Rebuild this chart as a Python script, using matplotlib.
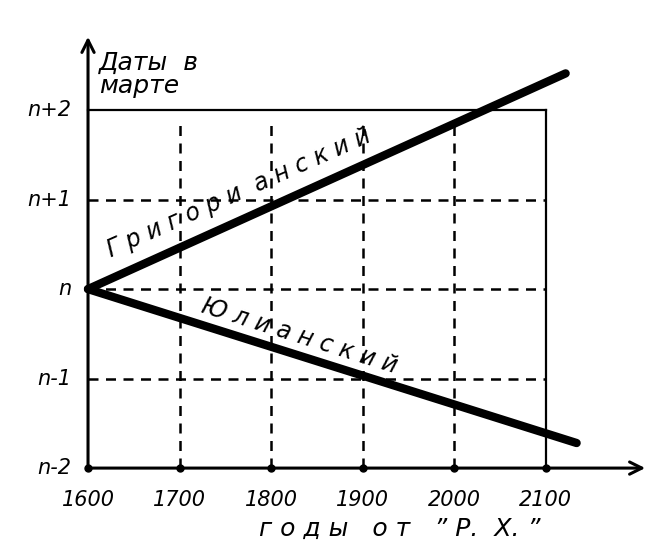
import numpy as np
import matplotlib.pyplot as plt

# годы по оси x и уровни дат по оси y
years = [1600, 1700, 1800, 1900, 2000, 2100]
levels = [-2, -1, 0, 1, 2]
level_labels = ['n-2', 'n-1', 'n', 'n+1', 'n+2']

# прямые календарей: (год, сдвиг даты)
greg_years = [1600, 2122]
greg_shift = [0, 2.41]
jul_years = [1600, 2134]
jul_shift = [0, -1.72]

fig = plt.figure(figsize=(6.5, 5.54), dpi=100)
ax = fig.add_axes([0, 0, 1, 1])
ax.set_xlim(1503.8, 2214.2)
ax.set_ylim(-2.96, 3.23)
ax.axis('off')

x0, x1 = years[0], years[-1]
y0, y1 = levels[0], levels[-1]

# рамка
ax.plot([x0, x1], [y1, y1], color='black', lw=1.6)
ax.plot([x1, x1], [y0, y1], color='black', lw=1.6)

# оси со стрелками
ax.annotate('', xy=(2212, y0), xytext=(x0, y0),
            arrowprops=dict(arrowstyle='->', lw=2.2, color='black', mutation_scale=22))
ax.annotate('', xy=(x0, 2.85), xytext=(x0, y0),
            arrowprops=dict(arrowstyle='->', lw=2.2, color='black', mutation_scale=22))

# пунктирная сетка
for yr in years[1:-1]:
    ax.plot([yr, yr], [y0, y1 - 0.1], color='black', lw=1.8, ls=(0, (4, 3)))
for lv in levels[1:-1]:
    ax.plot([x0, x1], [lv, lv], color='black', lw=1.8, ls=(0, (4, 3)))

# точки на оси x
ax.plot(years, [y0] * len(years), 'o', color='black', ms=5)

# прямые
ax.plot(greg_years, greg_shift, color='black', lw=6, solid_capstyle='round')
ax.plot(jul_years, jul_shift, color='black', lw=6, solid_capstyle='round')

fs = 15
for yr in years:
    ax.text(yr, y0 - 0.36, str(yr), ha='center', va='center',
            fontsize=fs, style='italic')
for lv, lab in zip(levels, level_labels):
    ax.text(x0 - 18, lv, lab, ha='right', va='center', fontsize=fs, style='italic')

ax.text(x0 + 12, 2.4, 'Даты  в\nмарте', ha='left', va='center',
        fontsize=18, style='italic', linespacing=0.95)
ax.text(1941, -2.76, 'г о д ы   о т   ” Р.  Х. ”', ha='center', va='baseline',
        fontsize=18, style='italic')

ax.text(1622, 0.43, 'Г р и г о р и  а н с к и й', rotation=24, ha='left', va='center',
        fontsize=17, style='italic', rotation_mode='anchor')
ax.text(1725, -0.18, 'Ю л и а н с к и й', rotation=-17.5, ha='left', va='center',
        fontsize=17, style='italic', rotation_mode='anchor')

fig.savefig('out.png', dpi=100)
